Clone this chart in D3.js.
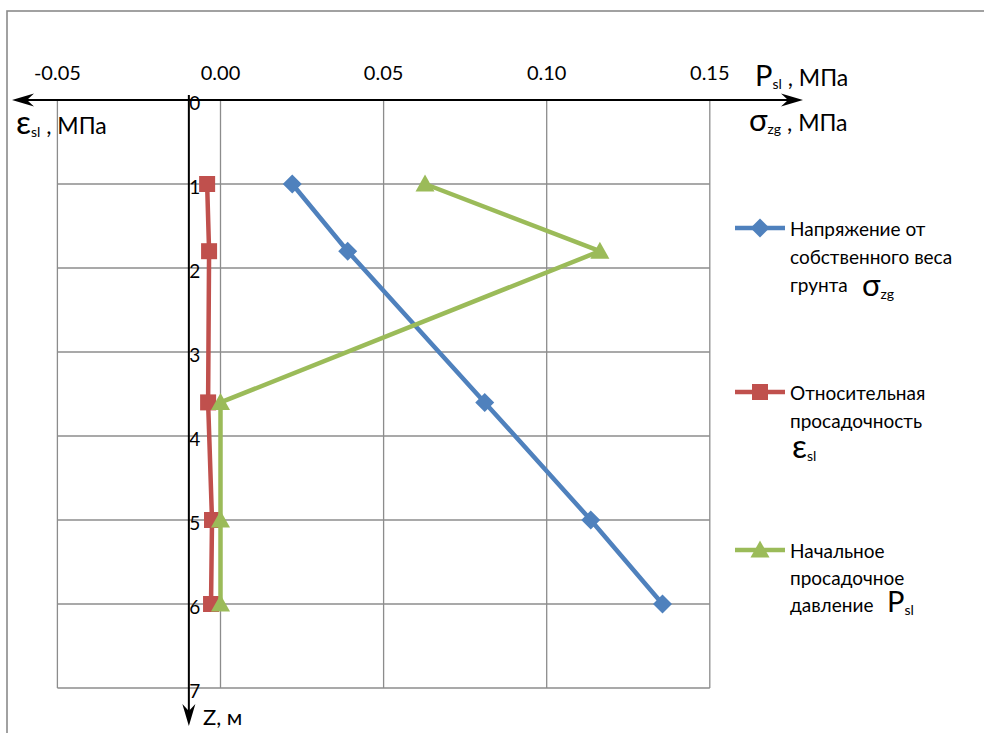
<!DOCTYPE html>
<html><head><meta charset="utf-8">
<script src="https://cdn.jsdelivr.net/npm/d3@7"></script>
<style>
html,body{margin:0;padding:0;background:#fff;}
svg{display:block;font-family:Lato,"Open Sans",sans-serif;}
</style></head>
<body><svg id="c" width="984" height="733"></svg>
<script>
// ---- data ----
const depths = [1, 1.8, 3.6, 5, 6];
const sigmaZg = [0.022, 0.039, 0.081, 0.1135, 0.1355];
const epsSl = [-0.0041, -0.0035, -0.0038, -0.0026, -0.0029];
const pSl = [0.0627, 0.1163, 0, 0, 0];
const xTicks = [-0.05, 0, 0.05, 0.10, 0.15];
const xTickLabels = ["-0.05", "0.00", "0.05", "0.10", "0.15"];
const zTicks = [0, 1, 2, 3, 4, 5, 6, 7];
const seriesNames = [
  ["Напряжение от", "собственного веса", "грунта"],
  ["Относительная", "просадочность", ""],
  ["Начальное", "просадочное", "давление"]
];
const colors = ["#4F81BD", "#C0504D", "#9BBB59"];
const zAxisAt = -0.0097;

const svg = d3.select("#c");
const L = 57.4, R = 709.8, T = 100, B = 688;
const x = d3.scaleLinear().domain([-0.05, 0.15]).range([L, R]);
const y = d3.scaleLinear().domain([0, 7]).range([T, B]);

// outer frame
svg.append("rect").attr("x", 7).attr("y", 11).attr("width", 1000).attr("height", 800)
  .attr("fill", "none").attr("stroke", "#8a8a8a").attr("stroke-width", 1.6);

// grid
const grid = svg.append("g").attr("stroke", "#8c8c8c").attr("stroke-width", 1.3);
xTicks.forEach(v => grid.append("line").attr("x1", x(v)).attr("x2", x(v)).attr("y1", T).attr("y2", B));
zTicks.forEach(v => grid.append("line").attr("x1", L).attr("x2", R).attr("y1", y(v)).attr("y2", y(v)));

// top tick labels
xTicks.forEach((v, i) => svg.append("text").attr("x", x(v)).attr("y", 80)
  .attr("text-anchor", "middle").attr("font-size", 20).attr("fill", "#000").text(xTickLabels[i]));

// axes lines with arrows
const ax = svg.append("g");
const xa = x(zAxisAt);
ax.append("line").attr("x1", 20).attr("x2", 795).attr("y1", y(0)).attr("y2", y(0))
  .attr("stroke", "#000").attr("stroke-width", 2);
ax.append("line").attr("x1", xa).attr("x2", xa).attr("y1", y(0) - 5).attr("y2", 718)
  .attr("stroke", "#000").attr("stroke-width", 2);
function arrow(tx, ty, dir) {
  let p;
  if (dir === 'l') p = [[tx, ty], [tx + 22, ty - 6.5], [tx + 15, ty], [tx + 22, ty + 6.5]];
  if (dir === 'r') p = [[tx, ty], [tx - 22, ty - 6.5], [tx - 15, ty], [tx - 22, ty + 6.5]];
  if (dir === 'd') p = [[tx, ty], [tx - 6.5, ty - 22], [tx, ty - 15], [tx + 6.5, ty - 22]];
  ax.append("path").attr("d", "M" + p.join("L") + "Z").attr("fill", "#000");
}
arrow(12, y(0), 'l');
arrow(803, y(0), 'r');
arrow(xa, 726, 'd');

// z tick labels
zTicks.forEach(v => svg.append("text").attr("x", xa + 0.5).attr("y", y(v) + 2)
  .attr("dominant-baseline", "central").attr("font-size", 19).text(v));

// axis titles
function subLabel(g, xx, yy, main, sub, rest, mainSize) {
  const t = g.append("text").attr("x", xx).attr("y", yy).attr("font-size", 23);
  t.append("tspan").attr("font-size", mainSize).text(main);
  t.append("tspan").attr("font-size", 14).attr("dy", 3).text(sub);
  if (rest) t.append("tspan").attr("dy", -3).attr("font-size", 23).text(rest);
  return t;
}
subLabel(svg, 16, 134, "ε", "sl", " , МПа", 33);
subLabel(svg, 755, 86, "P", "sl", " , МПа", 29);
subLabel(svg, 749, 131, "σ", "zg", " , МПа", 31);
svg.append("text").attr("x", 203).attr("y", 725).attr("font-size", 22).text("Z, м");

// series
const seriesVals = [sigmaZg, epsSl, pSl];
const lineGen = d3.line().x(d => x(d[0])).y(d => y(d[1]));
function marker(g, i, cx, cy) {
  if (i === 0) g.append("path").attr("d", `M${cx},${cy - 9.5}L${cx + 9.5},${cy}L${cx},${cy + 9.5}L${cx - 9.5},${cy}Z`).attr("fill", colors[0]);
  if (i === 1) g.append("rect").attr("x", cx - 8).attr("y", cy - 8).attr("width", 16).attr("height", 16).attr("fill", colors[1]);
  if (i === 2) g.append("path").attr("d", `M${cx},${cy - 9.5}L${cx + 9.5},${cy + 7.5}L${cx - 9.5},${cy + 7.5}Z`).attr("fill", colors[2]);
}
seriesVals.forEach((vals, i) => {
  const pts = vals.map((v, k) => [v, depths[k]]);
  const g = svg.append("g");
  g.append("path").attr("d", lineGen(pts)).attr("fill", "none").attr("stroke", colors[i])
    .attr("stroke-width", 4.5).attr("stroke-linejoin", "round");
  pts.forEach(p => marker(g, i, x(p[0]), y(p[1])));
});

// legend
const legY = [228, 392, 550];
const lineGap = [28, 28, 27];
const lg = svg.append("g");
seriesNames.forEach((lines, i) => {
  const cy = legY[i];
  lg.append("line").attr("x1", 735).attr("x2", 785).attr("y1", cy).attr("y2", cy)
    .attr("stroke", colors[i]).attr("stroke-width", 4.5);
  marker(lg, i, 760, cy);
  lines.forEach((s, k) => {
    if (s) lg.append("text").attr("x", 790).attr("y", cy + k * lineGap[i] + 8).attr("font-size", 19).text(s);
  });
});
// symbols in legend
subLabel(lg, 862, 296, "σ", "zg", null, 31);
subLabel(lg, 792, 458, "ε", "sl", null, 33);
subLabel(lg, 887, 612, "P", "sl", null, 29);
</script></body></html>
